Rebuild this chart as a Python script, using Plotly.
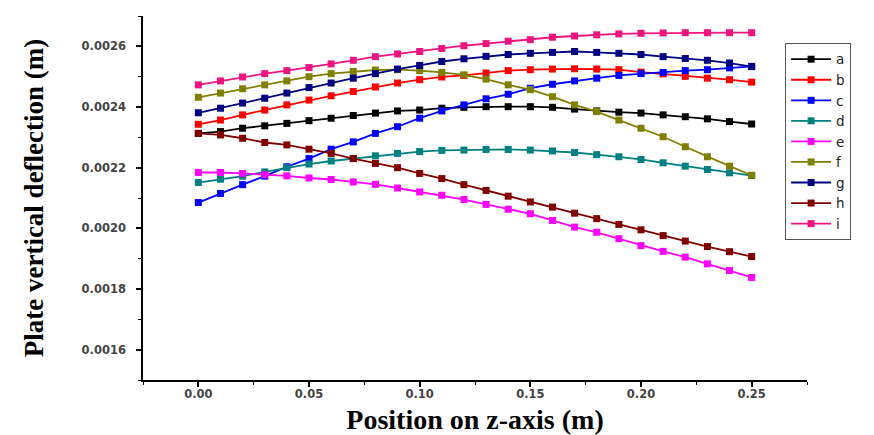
import plotly.graph_objects as go

z = [round(0.01 * k, 2) for k in range(26)]

a = [0.002313, 0.002319, 0.002330, 0.002338, 0.002346, 0.002355, 0.002363, 0.002372, 0.002380, 0.002387,
     0.002390, 0.002396, 0.002399, 0.002401, 0.002401, 0.002401, 0.002399, 0.002393, 0.002387, 0.002383,
     0.002380, 0.002374, 0.002368, 0.002361, 0.002352, 0.002344]
b = [0.002343, 0.002357, 0.002374, 0.002390, 0.002407, 0.002423, 0.002437, 0.002451, 0.002466, 0.002479,
     0.002490, 0.002499, 0.002504, 0.002512, 0.002520, 0.002523, 0.002525, 0.002526, 0.002525, 0.002523,
     0.002515, 0.002509, 0.002501, 0.002495, 0.002490, 0.002482]
c = [0.002085, 0.002115, 0.002144, 0.002172, 0.002203, 0.002230, 0.002261, 0.002285, 0.002313, 0.002335,
     0.002363, 0.002387, 0.002407, 0.002427, 0.002442, 0.002462, 0.002475, 0.002486, 0.002495, 0.002504,
     0.002510, 0.002514, 0.002520, 0.002523, 0.002529, 0.002534]
d = [0.002151, 0.002162, 0.002172, 0.002186, 0.002200, 0.002212, 0.002222, 0.002230, 0.002239, 0.002247,
     0.002253, 0.002257, 0.002258, 0.002260, 0.002260, 0.002258, 0.002255, 0.002250, 0.002243, 0.002236,
     0.002227, 0.002216, 0.002205, 0.002194, 0.002183, 0.002174]
e = [0.002184, 0.002184, 0.002181, 0.002177, 0.002173, 0.002166, 0.002161, 0.002153, 0.002145, 0.002133,
     0.002120, 0.002109, 0.002095, 0.002079, 0.002063, 0.002048, 0.002026, 0.002004, 0.001987, 0.001966,
     0.001943, 0.001924, 0.001905, 0.001883, 0.001861, 0.001838]
f = [0.002432, 0.002446, 0.002460, 0.002473, 0.002486, 0.002500, 0.002510, 0.002517, 0.002522, 0.002523,
     0.002520, 0.002514, 0.002506, 0.002492, 0.002473, 0.002457, 0.002434, 0.002407, 0.002385, 0.002357,
     0.002330, 0.002302, 0.002269, 0.002236, 0.002205, 0.002175]
g = [0.002381, 0.002396, 0.002413, 0.002429, 0.002446, 0.002464, 0.002479, 0.002495, 0.002510, 0.002525,
     0.002537, 0.002550, 0.002559, 0.002567, 0.002573, 0.002577, 0.002580, 0.002583, 0.002580, 0.002577,
     0.002573, 0.002566, 0.002560, 0.002554, 0.002545, 0.002533]
h = [0.002313, 0.002308, 0.002297, 0.002283, 0.002275, 0.002261, 0.002247, 0.002230, 0.002214, 0.002200,
     0.002181, 0.002164, 0.002144, 0.002125, 0.002106, 0.002087, 0.002070, 0.002050, 0.002032, 0.002013,
     0.001995, 0.001976, 0.001958, 0.001940, 0.001923, 0.001907]
i_ = [0.002473, 0.002486, 0.002499, 0.002510, 0.002520, 0.002530, 0.002542, 0.002554, 0.002566, 0.002575,
      0.002583, 0.002593, 0.002602, 0.002609, 0.002617, 0.002622, 0.002630, 0.002634, 0.002638, 0.002641,
      0.002643, 0.002644, 0.002645, 0.002645, 0.002645, 0.002645]

names = ["a", "b", "c", "d", "e", "f", "g", "h", "i"]
series = [a, b, c, d, e, f, g, h, i_]
colors = ["#000000", "#FF0000", "#0000FF", "#008080", "#FF00FF", "#808000", "#000080", "#800000", "#F0147F"]

y_ticks = [0.0016, 0.0018, 0.0020, 0.0022, 0.0024, 0.0026]
x_ticks = [0.00, 0.05, 0.10, 0.15, 0.20, 0.25]

fig = go.Figure()
for n, s, col in zip(names, series, colors):
    fig.add_trace(go.Scatter(
        x=z, y=s, name=n, mode="lines+markers",
        line=dict(color=col, width=1.8),
        marker=dict(symbol="square", size=7, color=col),
    ))

tickfont = dict(family="DejaVu Sans", size=11.5, color="#444444", weight="bold")
fig.update_layout(
    width=866, height=427,
    margin=dict(l=135, r=67, t=8, b=55),
    paper_bgcolor="white", plot_bgcolor="white",
    showlegend=True,
    legend=dict(
        x=0.967, y=0.926, xanchor="left", yanchor="top",
        bordercolor="#555555", borderwidth=1, bgcolor="white",
        font=dict(family="DejaVu Sans", size=13.5, color="#222222"),
        tracegroupgap=0, itemwidth=40,
    ),
    xaxis=dict(
        range=[-0.025, 0.275], tickvals=x_ticks, ticktext=[f"{v:.2f}" for v in x_ticks],
        showline=True, linecolor="black", linewidth=1.5, ticks="outside", ticklen=5,
        tickwidth=1.5, tickcolor="black", showgrid=False, zeroline=False,
        tickfont=tickfont, ticklabelstandoff=-3, automargin=False,
        minor=dict(dtick=0.025, tick0=-0.025, ticks="outside", ticklen=3, tickcolor="black", tickwidth=1),
        title=dict(text="Position on z-axis (m)", standoff=10,
                   font=dict(family="Liberation Serif", size=28, color="black", weight="bold")),
    ),
    yaxis=dict(
        range=[0.0015, 0.0027], tickvals=y_ticks, ticktext=[f"{v:.4f}" for v in y_ticks],
        showline=True, linecolor="black", linewidth=1.5, ticks="outside", ticklen=5,
        tickwidth=1.5, tickcolor="black", showgrid=False, zeroline=False,
        tickfont=tickfont, ticklabelstandoff=8, automargin=False,
        minor=dict(dtick=0.0001, tick0=0.0015, ticks="outside", ticklen=3, tickcolor="black", tickwidth=1),
        title=dict(text="Plate vertical deflection (m)", standoff=30,
                   font=dict(family="Liberation Serif", size=27, color="black", weight="bold")),
    ),
)

fig.write_html("out.html")
